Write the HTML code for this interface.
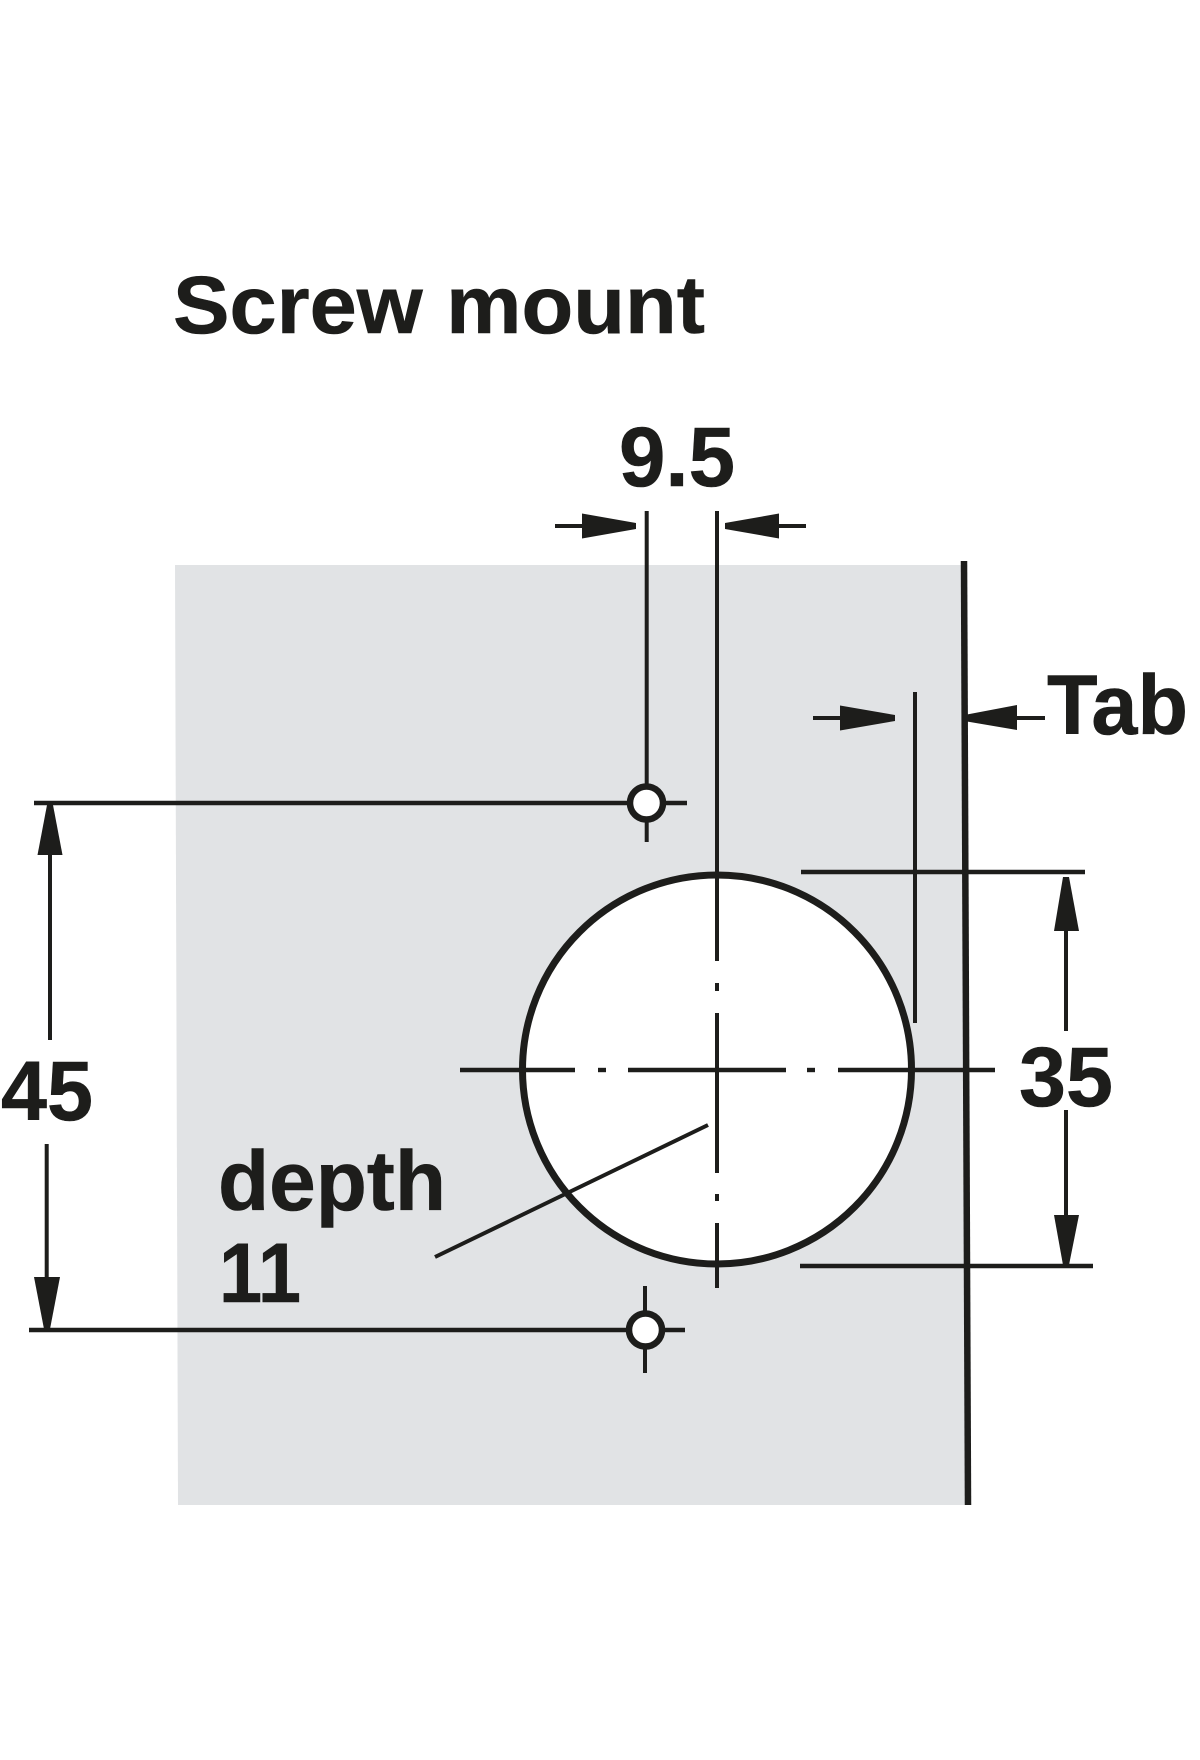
<!DOCTYPE html>
<html lang="en">
<head>
<meta charset="utf-8">
<title>Screw mount</title>
<style>
html,body{margin:0;padding:0;background:#fff;width:1200px;height:1760px;overflow:hidden}
svg{display:block}
text{font-family:"Liberation Sans",Arial,sans-serif;font-weight:700;fill:#1d1d1b;font-size:84px;stroke:#1d1d1b;stroke-width:.6}
.l{stroke:#1d1d1b;fill:none;stroke-width:4}
.m{stroke:#1d1d1b;fill:none;stroke-width:4.4}
.a{fill:#1d1d1b;stroke:none}
</style>
</head>
<body>
<svg xmlns="http://www.w3.org/2000/svg" width="1200" height="1760" viewBox="0 0 1200 1760">
<rect width="1200" height="1760" fill="#fff"/>
<polygon points="175,565 964,565 968,1505 178,1505" fill="#e1e3e5"/>
<line x1="964" y1="561" x2="968" y2="1505" stroke="#1d1d1b" stroke-width="6.5"/>

<text x="173" y="333" textLength="532" lengthAdjust="spacingAndGlyphs" style="font-size:82px">Screw mount</text>
<text x="619" y="486" textLength="116" lengthAdjust="spacingAndGlyphs">9.5</text>
<text x="1047" y="734" textLength="141" lengthAdjust="spacingAndGlyphs">Tab</text>
<text x="1" y="1120" textLength="92" lengthAdjust="spacingAndGlyphs">45</text>
<text x="1019" y="1106" textLength="94" lengthAdjust="spacingAndGlyphs">35</text>
<text x="218" y="1210" textLength="228" lengthAdjust="spacingAndGlyphs">depth</text>
<text x="219" y="1302" textLength="82" lengthAdjust="spacingAndGlyphs">11</text>

<circle cx="717" cy="1069.5" r="194.5" fill="#fff" stroke="#1d1d1b" stroke-width="7"/>

<line class="l" x1="717" y1="511" x2="717" y2="961"/>
<line class="l" x1="717" y1="983" x2="717" y2="991"/>
<line class="l" x1="717" y1="1013" x2="717" y2="1173"/>
<line class="l" x1="717" y1="1194" x2="717" y2="1201"/>
<line class="l" x1="717" y1="1223" x2="717" y2="1288"/>

<line class="m" x1="460" y1="1070" x2="575" y2="1070"/>
<line class="m" x1="598" y1="1070" x2="606" y2="1070"/>
<line class="m" x1="628" y1="1070" x2="786" y2="1070"/>
<line class="m" x1="807" y1="1070" x2="815" y2="1070"/>
<line class="m" x1="838" y1="1070" x2="995" y2="1070"/>

<line class="l" x1="708" y1="1125" x2="435" y2="1257"/>

<line class="l" x1="646.7" y1="511" x2="646.7" y2="842"/>
<line class="m" x1="34" y1="803" x2="687" y2="803"/>
<circle cx="646.5" cy="803" r="16.5" fill="#fff" stroke="#1d1d1b" stroke-width="6.5"/>

<line class="l" x1="645" y1="1286" x2="645" y2="1373"/>
<line class="m" x1="29" y1="1330" x2="685" y2="1330"/>
<circle cx="645.5" cy="1330" r="16.5" fill="#fff" stroke="#1d1d1b" stroke-width="6.5"/>

<line class="l" x1="915" y1="692" x2="915" y2="1023"/>
<line class="m" x1="801" y1="872" x2="1085" y2="872"/>
<line class="m" x1="800" y1="1266" x2="1093" y2="1266"/>

<line class="l" x1="555" y1="526" x2="585" y2="526"/>
<polygon class="a" points="582,513.5 636,523 636,529 582,538.5"/>
<line class="l" x1="775" y1="526" x2="806" y2="526"/>
<polygon class="a" points="779,513.5 725,523 725,529 779,538.5"/>

<line class="l" x1="813" y1="718" x2="843" y2="718"/>
<polygon class="a" points="840,705.5 895,715 895,721 840,730.5"/>
<line class="l" x1="1015" y1="718" x2="1045" y2="718"/>
<polygon class="a" points="1017,705 967,714.5 967,721.5 1017,730"/>

<line class="l" x1="50" y1="850" x2="50" y2="1040"/>
<polygon class="a" points="47,805 53,805 62.5,855 37.5,855"/>
<line class="l" x1="46.7" y1="1144" x2="46.7" y2="1280"/>
<polygon class="a" points="34,1277 60,1277 50,1329 44,1329"/>

<line class="l" x1="1066" y1="925" x2="1066" y2="1031"/>
<polygon class="a" points="1063,877 1069,877 1079,931 1054,931"/>
<line class="l" x1="1066" y1="1110" x2="1066" y2="1220"/>
<polygon class="a" points="1054,1215 1079,1215 1069,1265 1063,1265"/>
</svg>
</body>
</html>
